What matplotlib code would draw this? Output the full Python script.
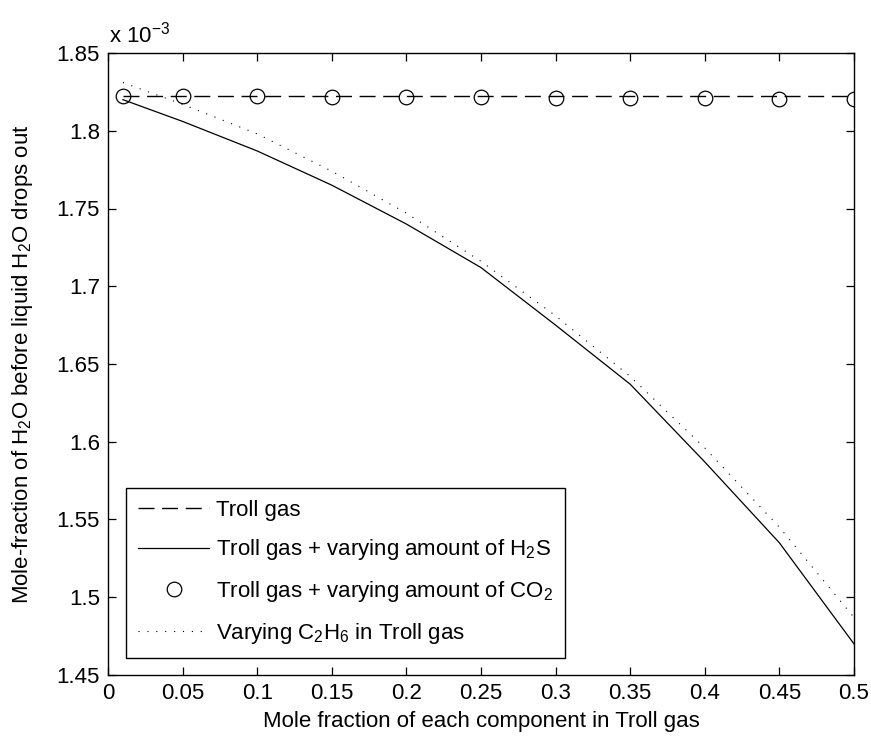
import matplotlib
matplotlib.use("Agg")
import matplotlib.pyplot as plt

# ---- data (values in units of 1e-3) ----
x_frac = [0.01, 0.05, 0.10, 0.15, 0.20, 0.25, 0.30, 0.35, 0.40, 0.45, 0.50]
troll_x = [0.01, 0.50]
troll_gas = [1.8222, 1.8222]
h2s = [1.820, 1.806, 1.787, 1.765, 1.740, 1.712, 1.675, 1.637, 1.587, 1.535, 1.470]
co2 = [1.8223, 1.8222, 1.8221, 1.8219, 1.8217, 1.8215, 1.8213, 1.8210, 1.8208, 1.8206, 1.8204]
c2h6 = [1.831, 1.817, 1.798, 1.774, 1.747, 1.716, 1.681, 1.642, 1.596, 1.545, 1.487]

x_ticks = [0, 0.05, 0.1, 0.15, 0.2, 0.25, 0.3, 0.35, 0.4, 0.45, 0.5]
x_ticklabels = ["0", "0.05", "0.1", "0.15", "0.2", "0.25", "0.3", "0.35", "0.4", "0.45", "0.5"]
y_ticks = [1.45, 1.5, 1.55, 1.6, 1.65, 1.7, 1.75, 1.8, 1.85]
y_ticklabels = ["1.45", "1.5", "1.55", "1.6", "1.65", "1.7", "1.75", "1.8", "1.85"]

labels = ["Troll gas",
          "Troll gas + varying amount of H$_2$S",
          "Troll gas + varying amount of CO$_2$",
          "Varying C$_2$H$_6$ in Troll gas"]

FONT = "Liberation Sans"
plt.rcParams["font.family"] = [FONT, "DejaVu Sans"]
plt.rcParams["mathtext.fontset"] = "custom"
plt.rcParams["mathtext.rm"] = FONT
plt.rcParams["mathtext.default"] = "regular"
FS = 16

W, H = 871, 740
fig = plt.figure(figsize=(W / 100, H / 100), dpi=100)
L, R, T, B = 108, 854, 53, 675
ax = fig.add_axes([L / W, 1 - B / H, (R - L) / W, (B - T) / H])

ax.plot(troll_x, troll_gas, color="black", lw=1.0, dashes=(11.5, 5.5), label=labels[0])
ax.plot(x_frac, h2s, color="black", lw=0.9, label=labels[1])
ax.plot(x_frac, co2, linestyle="none", marker="o", markersize=10.5,
        mfc="none", mec="black", mew=0.9, label=labels[2])
ax.plot(x_frac, c2h6, color="black", lw=0.8, dashes=(1, 7), label=labels[3])

ax.set_xlim(0, 0.5)
ax.set_ylim(1.45, 1.85)
ax.set_xticks(x_ticks)
ax.set_xticklabels(x_ticklabels)
ax.set_yticks(y_ticks)
ax.set_yticklabels(y_ticklabels)
ax.tick_params(direction="in", length=6, width=0.9, top=True, right=True,
               labelsize=FS, colors="black")
ax.tick_params(axis="x", pad=5.8)
ax.tick_params(axis="y", pad=5.8)
for s in ax.spines.values():
    s.set_linewidth(1.0)
    s.set_color("black")

ax.set_xlabel("Mole fraction of each component in Troll gas", fontsize=FS, va="top")
ax.xaxis.set_label_coords(0.5, -(711 - B) / (B - T))
ax.set_ylabel("Mole-fraction of H$_2$O before liquid H$_2$O drops out", fontsize=FS)
ax.yaxis.set_label_coords(-(L - 35) / (R - L), 0.5)

ax.text(0.0015, 1 + 10 / (B - T), "x 10$^{-3}$", transform=ax.transAxes, fontsize=FS,
        ha="left", va="baseline")

leg = ax.legend(loc="lower left", bbox_to_anchor=((126 - L) / (R - L), (B - 658) / (B - T)),
                borderaxespad=0, fontsize=FS, frameon=True, fancybox=False, framealpha=1,
                edgecolor="black", handlelength=3.2, handletextpad=0.28,
                labelspacing=0.75, borderpad=0.55)
leg.get_frame().set_linewidth(1.0)

fig.savefig("out.png", dpi=100, facecolor="white")
